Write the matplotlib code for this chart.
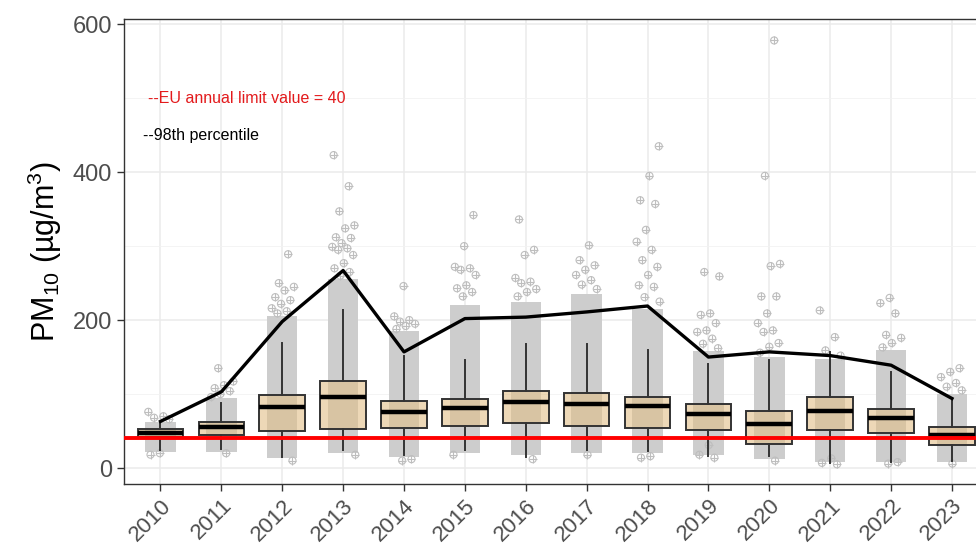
import numpy as np
import matplotlib
matplotlib.use("Agg")
import matplotlib.pyplot as plt

plt.rcParams["font.family"] = ["Liberation Sans", "DejaVu Sans"]
plt.rcParams["mathtext.fontset"] = "custom"
plt.rcParams["mathtext.rm"] = "Liberation Sans"

# Box statistics (ug/m3)
years = [str(y) for y in range(2010, 2024)]
q1 = [42, 44, 50, 53, 54, 57, 61, 57, 54.5, 51, 32, 52, 48, 31]
median = [47, 55, 82, 96, 76, 81, 89, 86.5, 84, 73, 60, 77, 67, 44]
q3 = [52.7, 62.6, 98.6, 117, 91, 93, 104, 102, 96, 87, 77, 95.5, 80, 55]
whisker_lo = [24, 26, 15, 24, 17.6, 24, 15, 24, 23, 16, 16, 7, 8.5, 10]
whisker_hi = [62, 88, 169, 213, 151, 146, 168, 168, 160, 141, 146, 157, 130, 94]
p98 = [63, 103, 198, 267, 157, 202, 204, 211, 219, 150, 157, 152, 139, 94]
limit_value = 40

# dense part of the daily point cloud (min / max of the solid band)
core_lo = [22, 22, 14, 20, 15, 20, 18, 20, 20, 18, 12, 8, 8, 8]
core_hi = [62, 95, 205, 255, 185, 220, 225, 235, 215, 158, 150, 148, 160, 100]

# sparse points visible outside the dense band
sparse = [
    [76, 70, 68, 66, 20, 18],
    [135, 117, 112, 108, 104, 100, 96, 20],
    [289, 250, 245, 240, 231, 227, 222, 216, 212, 209, 10],
    [423, 381, 347, 328, 324, 312, 311, 304, 299, 297, 295, 288, 277, 270,
     265, 260, 18],
    [246, 205, 200, 198, 195, 192, 188, 12, 10],
    [342, 300, 272, 270, 268, 261, 247, 243, 238, 232, 18],
    [336, 295, 288, 257, 252, 250, 242, 238, 232, 12],
    [301, 281, 274, 268, 261, 254, 248, 242, 18],
    [435, 395, 362, 357, 322, 306, 295, 281, 272, 261, 247, 245, 231, 225,
     16, 14],
    [265, 259, 209, 207, 196, 186, 184, 175, 168, 162, 31, 18, 14],
    [578, 395, 276, 273, 232, 232, 209, 196, 186, 184, 169, 164, 156, 10],
    [213, 177, 159, 152, 13, 7, 5],
    [230, 223, 209, 180, 176, 169, 163, 8, 6],
    [135, 130, 123, 115, 110, 105, 6],
]

pt_col = "#BEBEBE"
core_col = "#CDCDCD"
box_col = "#E1BE87"
txt_col = "#4D4D4D"

fig = plt.figure(figsize=(9.76, 5.49), dpi=100)
ax = fig.add_axes([0.127, 0.1184, 0.8858, 0.847])

x = np.arange(len(years))

# point clouds: solid band + jittered sparse points (geom_jitter-like spread)
ax.bar(x, np.array(core_hi) - np.array(core_lo), bottom=core_lo, width=0.5,
       color=core_col, zorder=2, linewidth=0)
for i, vals in enumerate(sparse):
    k = np.arange(len(vals))
    off = ((k * 0.618034 + i * 0.37) % 1 - 0.5) * 0.4
    ax.scatter(x[i] + off, vals, s=26, marker="o", facecolors="none",
               edgecolors=pt_col, linewidths=0.8, zorder=3)
    ax.scatter(x[i] + off, vals, s=26, marker="+", color=pt_col,
               linewidths=0.8, zorder=3)

# boxplots
stats = []
for i in range(len(years)):
    stats.append({"med": median[i], "q1": q1[i], "q3": q3[i],
                  "whislo": whisker_lo[i], "whishi": whisker_hi[i],
                  "fliers": []})
bp = ax.bxp(stats, positions=x, widths=0.75, patch_artist=True,
            showcaps=False,
            boxprops=dict(facecolor="none", edgecolor="#333333",
                          linewidth=1.4),
            medianprops=dict(color="black", linewidth=3.2),
            whiskerprops=dict(color="#333333", linewidth=1.4),
            zorder=4)
for b in bp["boxes"]:
    b.set_facecolor(matplotlib.colors.to_rgba(box_col, 0.6))

ax.axhline(limit_value, color="#FF0000", linewidth=2.8, zorder=5)
ax.plot(x, p98, color="black", linewidth=2.4, zorder=6)

ax.text(-0.2, 500, "--EU annual limit value = 40", color="#E31A1C",
        fontsize=11.5, va="center", ha="left")
ax.text(-0.28, 450, "--98th percentile", color="black",
        fontsize=11.5, va="center", ha="left")

ax.set_xlim(-0.6, len(years) - 0.4)
ax.set_ylim(-21.6, 607)
ax.set_xticks(x)
ax.set_xticklabels(years, rotation=45, ha="right", rotation_mode="anchor",
                   fontsize=16, color=txt_col)
ax.set_yticks([0, 200, 400, 600])
ax.set_yticks([100, 300, 500], minor=True)
ax.tick_params(axis="y", labelsize=17, labelcolor=txt_col)
ax.tick_params(axis="x", pad=3)
ax.tick_params(which="major", length=5, color="#333333", width=1)
ax.tick_params(which="minor", length=0)

ax.grid(which="major", color="#EBEBEB", linewidth=1.1, zorder=0)
ax.grid(which="minor", axis="y", color="#F2F2F2", linewidth=0.6, zorder=0)
ax.set_axisbelow(True)
for sp in ax.spines.values():
    sp.set_color("#333333")
    sp.set_linewidth(1)

ax.set_ylabel("PM$_{\\mathregular{10}}$ (µg/m$^{\\mathregular{3}}$)",
              fontsize=22, labelpad=6)

fig.savefig("out.png", dpi=100)
